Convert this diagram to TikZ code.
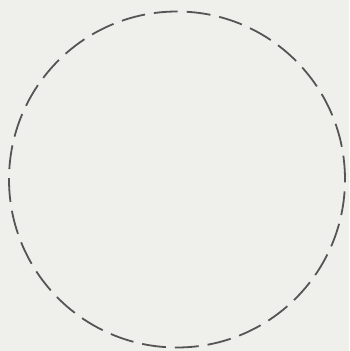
\documentclass[tikz,border=0pt]{standalone}
\begin{document}
\begin{tikzpicture}[x=1pt,y=-1pt]
\definecolor{bg}{HTML}{EFEFEB}
\definecolor{ink}{HTML}{555555}
\tikzset{dashring/.style={draw=ink,line width=1.8pt,dash pattern=on 23.9pt off 9pt}}
\fill[bg] (0,0) rectangle (349,351);
\useasboundingbox (0,0) rectangle (349,351);
\node[circle,minimum size=336pt,inner sep=0pt,dashring] (ring) at (177,179.5) {};
\end{tikzpicture}
\end{document}
